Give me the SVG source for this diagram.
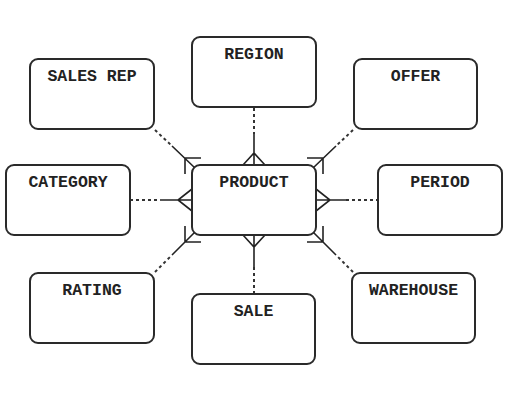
<svg xmlns="http://www.w3.org/2000/svg" width="523" height="400" viewBox="0 0 523 400">
<style>
.box{fill:#fff;stroke:#2a2a2a;stroke-width:2}
.lbl{font-family:"Liberation Mono","Courier New",monospace;font-weight:bold;font-size:16.5px;fill:#222;text-anchor:middle}
.dot{stroke:#333;stroke-width:2;stroke-dasharray:3 3;fill:none}
.sol{stroke:#222;stroke-width:1.6;fill:none}
</style>
<rect width="523" height="400" fill="#fff"/>
<g id="connectors">
  <!-- top: REGION -->
  <line class="dot" x1="254" y1="108" x2="254" y2="134"/>
  <path class="sol" d="M254 134V165M243 165L254 153L265 165"/>
  <!-- bottom: SALE -->
  <line class="dot" x1="254" y1="267" x2="254" y2="294"/>
  <path class="sol" d="M254 235V267M243 235L254 247L265 235"/>
  <!-- left: CATEGORY -->
  <line class="dot" x1="130" y1="200" x2="160" y2="200"/>
  <path class="sol" d="M160 200H192M192 189L178 200L192 211"/>
  <!-- right: PERIOD -->
  <line class="dot" x1="346" y1="200" x2="378" y2="200"/>
  <path class="sol" d="M316 200H346M316 189L330 200L316 211"/>
  <!-- top-left: SALES REP -->
  <line class="dot" x1="155" y1="130" x2="172" y2="146"/>
  <path class="sol" d="M172 146L195 168M201 158H185V174"/>
  <!-- top-right: OFFER -->
  <line class="dot" x1="353" y1="130" x2="336" y2="146"/>
  <path class="sol" d="M336 146L313 168M307 158H323V174"/>
  <!-- bottom-left: RATING -->
  <line class="dot" x1="155" y1="272" x2="172" y2="255"/>
  <path class="sol" d="M172 255L195 232M201 242H185V226"/>
  <!-- bottom-right: WAREHOUSE -->
  <line class="dot" x1="353" y1="272" x2="336" y2="255"/>
  <path class="sol" d="M336 255L313 232M307 242H323V226"/>
</g>
<g id="region"><rect class="box" x="192" y="37" width="124" height="70" rx="8"/><text class="lbl" x="254" y="59">REGION</text></g>
<g id="sales-rep"><rect class="box" x="30" y="59" width="124" height="70" rx="8"/><text class="lbl" x="92" y="81">SALES REP</text></g>
<g id="offer"><rect class="box" x="354" y="59" width="123" height="70" rx="8"/><text class="lbl" x="415.5" y="81">OFFER</text></g>
<g id="category"><rect class="box" x="6" y="165" width="124" height="70" rx="8"/><text class="lbl" x="68" y="187">CATEGORY</text></g>
<g id="product"><rect class="box" x="192" y="165" width="124" height="70" rx="8"/><text class="lbl" x="254" y="187">PRODUCT</text></g>
<g id="period"><rect class="box" x="378" y="165" width="124" height="70" rx="8"/><text class="lbl" x="440" y="187">PERIOD</text></g>
<g id="rating"><rect class="box" x="30" y="273" width="124" height="70" rx="8"/><text class="lbl" x="92" y="295">RATING</text></g>
<g id="sale"><rect class="box" x="192" y="294" width="123" height="70" rx="8"/><text class="lbl" x="253.5" y="316">SALE</text></g>
<g id="warehouse"><rect class="box" x="352" y="273" width="123" height="70" rx="8"/><text class="lbl" x="413.5" y="295">WAREHOUSE</text></g>
</svg>
